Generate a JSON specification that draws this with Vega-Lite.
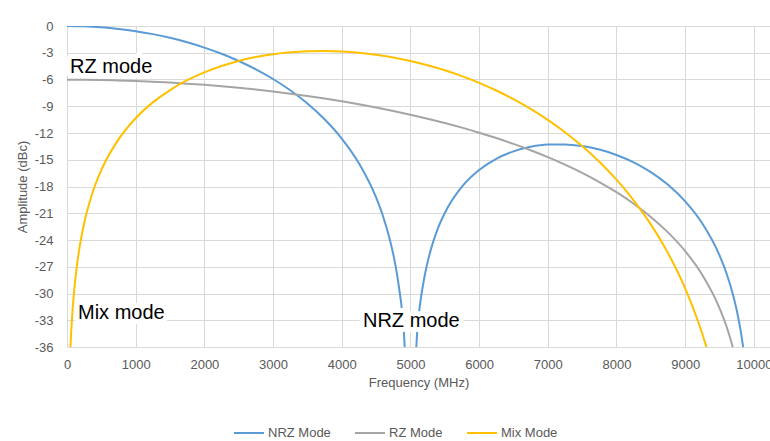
{
  "$schema": "https://vega.github.io/schema/vega-lite/v6.json",
  "autosize": {"type": "none"},
  "padding": {"left": 67, "top": 26, "right": 0, "bottom": 94},
  "width": 703,
  "height": 321,
  "background": "white",
  "config": {
    "view": {"stroke": null},
    "font": "Liberation Sans",
    "axis": {
      "labelFont": "Liberation Sans",
      "titleFont": "Liberation Sans",
      "labelFontSize": 13,
      "titleFontSize": 13,
      "labelColor": "#595959",
      "titleColor": "#595959",
      "titleFontWeight": "normal",
      "gridColor": "#d9d9d9",
      "gridWidth": 1,
      "domain": false,
      "ticks": false,
      "labelOverlap": false
    }
  },
  "datasets": {
    "curves": [
      {"mode": "NRZ Mode", "freq": 0, "amp": 0},
      {"mode": "NRZ Mode", "freq": 250, "amp": -0.036},
      {"mode": "NRZ Mode", "freq": 500, "amp": -0.143},
      {"mode": "NRZ Mode", "freq": 750, "amp": -0.324},
      {"mode": "NRZ Mode", "freq": 1000, "amp": -0.579},
      {"mode": "NRZ Mode", "freq": 1250, "amp": -0.912},
      {"mode": "NRZ Mode", "freq": 1500, "amp": -1.326},
      {"mode": "NRZ Mode", "freq": 1750, "amp": -1.827},
      {"mode": "NRZ Mode", "freq": 2000, "amp": -2.42},
      {"mode": "NRZ Mode", "freq": 2250, "amp": -3.115},
      {"mode": "NRZ Mode", "freq": 2500, "amp": -3.922},
      {"mode": "NRZ Mode", "freq": 2750, "amp": -4.858},
      {"mode": "NRZ Mode", "freq": 3000, "amp": -5.942},
      {"mode": "NRZ Mode", "freq": 3250, "amp": -7.204},
      {"mode": "NRZ Mode", "freq": 3500, "amp": -8.686},
      {"mode": "NRZ Mode", "freq": 3750, "amp": -10.455},
      {"mode": "NRZ Mode", "freq": 4000, "amp": -12.62},
      {"mode": "NRZ Mode", "freq": 4250, "amp": -15.39},
      {"mode": "NRZ Mode", "freq": 4500, "amp": -19.228},
      {"mode": "NRZ Mode", "freq": 4600, "amp": -21.305},
      {"mode": "NRZ Mode", "freq": 4700, "amp": -23.951},
      {"mode": "NRZ Mode", "freq": 4750, "amp": -25.611},
      {"mode": "NRZ Mode", "freq": 4800, "amp": -27.627},
      {"mode": "NRZ Mode", "freq": 4900, "amp": -33.81},
      {"mode": "NRZ Mode", "freq": 4950, "amp": -39.914},
      {"mode": "NRZ Mode", "freq": 5050, "amp": -40.088},
      {"mode": "NRZ Mode", "freq": 5100, "amp": -34.157},
      {"mode": "NRZ Mode", "freq": 5200, "amp": -28.322},
      {"mode": "NRZ Mode", "freq": 5250, "amp": -26.48},
      {"mode": "NRZ Mode", "freq": 5300, "amp": -24.994},
      {"mode": "NRZ Mode", "freq": 5400, "amp": -22.698},
      {"mode": "NRZ Mode", "freq": 5500, "amp": -20.971},
      {"mode": "NRZ Mode", "freq": 5750, "amp": -18.016},
      {"mode": "NRZ Mode", "freq": 6000, "amp": -16.142},
      {"mode": "NRZ Mode", "freq": 6250, "amp": -14.892},
      {"mode": "NRZ Mode", "freq": 6500, "amp": -14.063},
      {"mode": "NRZ Mode", "freq": 6750, "amp": -13.552},
      {"mode": "NRZ Mode", "freq": 7000, "amp": -13.301},
      {"mode": "NRZ Mode", "freq": 7250, "amp": -13.278},
      {"mode": "NRZ Mode", "freq": 7500, "amp": -13.465},
      {"mode": "NRZ Mode", "freq": 7750, "amp": -13.857},
      {"mode": "NRZ Mode", "freq": 8000, "amp": -14.461},
      {"mode": "NRZ Mode", "freq": 8250, "amp": -15.295},
      {"mode": "NRZ Mode", "freq": 8500, "amp": -16.393},
      {"mode": "NRZ Mode", "freq": 8750, "amp": -17.814},
      {"mode": "NRZ Mode", "freq": 9000, "amp": -19.664},
      {"mode": "NRZ Mode", "freq": 9250, "amp": -22.146},
      {"mode": "NRZ Mode", "freq": 9500, "amp": -25.718},
      {"mode": "NRZ Mode", "freq": 9600, "amp": -27.696},
      {"mode": "NRZ Mode", "freq": 9700, "amp": -30.244},
      {"mode": "NRZ Mode", "freq": 9750, "amp": -31.857},
      {"mode": "NRZ Mode", "freq": 9800, "amp": -33.827},
      {"mode": "NRZ Mode", "freq": 9850, "amp": -36.36},
      {"mode": "NRZ Mode", "freq": 9900, "amp": -39.919},
      {"mode": "RZ Mode", "freq": 0, "amp": -6.021},
      {"mode": "RZ Mode", "freq": 250, "amp": -6.03},
      {"mode": "RZ Mode", "freq": 500, "amp": -6.056},
      {"mode": "RZ Mode", "freq": 750, "amp": -6.101},
      {"mode": "RZ Mode", "freq": 1000, "amp": -6.164},
      {"mode": "RZ Mode", "freq": 1250, "amp": -6.245},
      {"mode": "RZ Mode", "freq": 1500, "amp": -6.345},
      {"mode": "RZ Mode", "freq": 1750, "amp": -6.463},
      {"mode": "RZ Mode", "freq": 2000, "amp": -6.6},
      {"mode": "RZ Mode", "freq": 2250, "amp": -6.756},
      {"mode": "RZ Mode", "freq": 2500, "amp": -6.932},
      {"mode": "RZ Mode", "freq": 2750, "amp": -7.129},
      {"mode": "RZ Mode", "freq": 3000, "amp": -7.347},
      {"mode": "RZ Mode", "freq": 3250, "amp": -7.586},
      {"mode": "RZ Mode", "freq": 3500, "amp": -7.848},
      {"mode": "RZ Mode", "freq": 3750, "amp": -8.132},
      {"mode": "RZ Mode", "freq": 4000, "amp": -8.441},
      {"mode": "RZ Mode", "freq": 4250, "amp": -8.775},
      {"mode": "RZ Mode", "freq": 4500, "amp": -9.136},
      {"mode": "RZ Mode", "freq": 4750, "amp": -9.524},
      {"mode": "RZ Mode", "freq": 5000, "amp": -9.943},
      {"mode": "RZ Mode", "freq": 5250, "amp": -10.394},
      {"mode": "RZ Mode", "freq": 5500, "amp": -10.879},
      {"mode": "RZ Mode", "freq": 5750, "amp": -11.4},
      {"mode": "RZ Mode", "freq": 6000, "amp": -11.963},
      {"mode": "RZ Mode", "freq": 6250, "amp": -12.569},
      {"mode": "RZ Mode", "freq": 6500, "amp": -13.224},
      {"mode": "RZ Mode", "freq": 6750, "amp": -13.934},
      {"mode": "RZ Mode", "freq": 7000, "amp": -14.707},
      {"mode": "RZ Mode", "freq": 7250, "amp": -15.549},
      {"mode": "RZ Mode", "freq": 7500, "amp": -16.475},
      {"mode": "RZ Mode", "freq": 7750, "amp": -17.499},
      {"mode": "RZ Mode", "freq": 8000, "amp": -18.641},
      {"mode": "RZ Mode", "freq": 8250, "amp": -19.931},
      {"mode": "RZ Mode", "freq": 8500, "amp": -21.411},
      {"mode": "RZ Mode", "freq": 8750, "amp": -23.147},
      {"mode": "RZ Mode", "freq": 9000, "amp": -25.249},
      {"mode": "RZ Mode", "freq": 9250, "amp": -27.922},
      {"mode": "RZ Mode", "freq": 9500, "amp": -31.632},
      {"mode": "RZ Mode", "freq": 9600, "amp": -33.648},
      {"mode": "RZ Mode", "freq": 9700, "amp": -36.226},
      {"mode": "RZ Mode", "freq": 9800, "amp": -39.831},
      {"mode": "Mix Mode", "freq": 25, "amp": -42.098},
      {"mode": "Mix Mode", "freq": 50, "amp": -36.078},
      {"mode": "Mix Mode", "freq": 75, "amp": -32.557},
      {"mode": "Mix Mode", "freq": 100, "amp": -30.06},
      {"mode": "Mix Mode", "freq": 150, "amp": -26.541},
      {"mode": "Mix Mode", "freq": 200, "amp": -24.048},
      {"mode": "Mix Mode", "freq": 250, "amp": -22.116},
      {"mode": "Mix Mode", "freq": 375, "amp": -18.617},
      {"mode": "Mix Mode", "freq": 500, "amp": -16.149},
      {"mode": "Mix Mode", "freq": 750, "amp": -12.717},
      {"mode": "Mix Mode", "freq": 1000, "amp": -10.344},
      {"mode": "Mix Mode", "freq": 1250, "amp": -8.567},
      {"mode": "Mix Mode", "freq": 1500, "amp": -7.183},
      {"mode": "Mix Mode", "freq": 1750, "amp": -6.081},
      {"mode": "Mix Mode", "freq": 2000, "amp": -5.195},
      {"mode": "Mix Mode", "freq": 2250, "amp": -4.485},
      {"mode": "Mix Mode", "freq": 2500, "amp": -3.922},
      {"mode": "Mix Mode", "freq": 2750, "amp": -3.488},
      {"mode": "Mix Mode", "freq": 3000, "amp": -3.167},
      {"mode": "Mix Mode", "freq": 3250, "amp": -2.95},
      {"mode": "Mix Mode", "freq": 3500, "amp": -2.829},
      {"mode": "Mix Mode", "freq": 3750, "amp": -2.799},
      {"mode": "Mix Mode", "freq": 4000, "amp": -2.856},
      {"mode": "Mix Mode", "freq": 4250, "amp": -2.997},
      {"mode": "Mix Mode", "freq": 4500, "amp": -3.222},
      {"mode": "Mix Mode", "freq": 4750, "amp": -3.531},
      {"mode": "Mix Mode", "freq": 5000, "amp": -3.922},
      {"mode": "Mix Mode", "freq": 5250, "amp": -4.4},
      {"mode": "Mix Mode", "freq": 5500, "amp": -4.966},
      {"mode": "Mix Mode", "freq": 5750, "amp": -5.623},
      {"mode": "Mix Mode", "freq": 6000, "amp": -6.378},
      {"mode": "Mix Mode", "freq": 6250, "amp": -7.236},
      {"mode": "Mix Mode", "freq": 6500, "amp": -8.206},
      {"mode": "Mix Mode", "freq": 6750, "amp": -9.298},
      {"mode": "Mix Mode", "freq": 7000, "amp": -10.527},
      {"mode": "Mix Mode", "freq": 7250, "amp": -11.908},
      {"mode": "Mix Mode", "freq": 7500, "amp": -13.465},
      {"mode": "Mix Mode", "freq": 7750, "amp": -15.227},
      {"mode": "Mix Mode", "freq": 8000, "amp": -17.236},
      {"mode": "Mix Mode", "freq": 8250, "amp": -19.549},
      {"mode": "Mix Mode", "freq": 8500, "amp": -22.249},
      {"mode": "Mix Mode", "freq": 8750, "amp": -25.47},
      {"mode": "Mix Mode", "freq": 9000, "amp": -29.428},
      {"mode": "Mix Mode", "freq": 9200, "amp": -33.392},
      {"mode": "Mix Mode", "freq": 9250, "amp": -34.538},
      {"mode": "Mix Mode", "freq": 9300, "amp": -35.763},
      {"mode": "Mix Mode", "freq": 9400, "amp": -38.496}
    ],
    "notes": [
      {"label": "RZ mode", "freq": 44, "amp": -4.6},
      {"label": "Mix mode", "freq": 160, "amp": -32.2},
      {"label": "NRZ mode", "freq": 4309, "amp": -33.05}
    ]
  },
  "encoding": {
    "x": {
      "field": "freq", "type": "quantitative",
      "scale": {"domain": [0, 10235], "nice": false, "zero": false},
      "axis": {
        "title": "Frequency (MHz)",
        "values": [0, 1000, 2000, 3000, 4000, 5000, 6000, 7000, 8000, 9000, 10000],
        "labelExpr": "'' + datum.value",
        "labelPadding": 11,
        "titlePadding": 5,
        "labelFlush": false,
        "labelOverlap": false
      }
    },
    "y": {
      "field": "amp", "type": "quantitative",
      "scale": {"domain": [-36, 0], "nice": false, "zero": false},
      "axis": {
        "title": "Amplitude (dBc)",
        "values": [-36, -33, -30, -27, -24, -21, -18, -15, -12, -9, -6, -3, 0],
        "labelExpr": "'' + datum.value",
        "labelPadding": 14,
        "titlePadding": 5,
        "labelFlush": false,
        "labelOverlap": false
      }
    }
  },
  "layer": [
    {
      "data": {"name": "curves"},
      "mark": {"type": "line", "clip": true, "strokeWidth": 2, "interpolate": "monotone"},
      "encoding": {
        "color": {
          "field": "mode", "type": "nominal",
          "scale": {"domain": ["NRZ Mode", "RZ Mode", "Mix Mode"], "range": ["#5B9BD5", "#A5A5A5", "#FFC000"]},
          "legend": {
            "title": null,
            "orient": "none",
            "legendX": 166,
            "legendY": 391,
            "direction": "horizontal",
            "symbolType": "stroke",
            "symbolSize": 900,
            "symbolStrokeWidth": 2,
            "labelFont": "Liberation Sans",
            "labelFontSize": 13,
            "labelColor": "#595959",
            "labelOffset": 3,
            "columnPadding": 20
          }
        }
      }
    },
    {
      "data": {"name": "notes"},
      "mark": {"type": "text", "align": "left", "baseline": "middle", "font": "Liberation Sans", "fontSize": 20, "color": "white", "stroke": "white", "strokeWidth": 10, "strokeJoin": "round"},
      "encoding": {
        "text": {"field": "label"}
      }
    },
    {
      "data": {"name": "notes"},
      "mark": {"type": "text", "align": "left", "baseline": "middle", "font": "Liberation Sans", "fontSize": 20, "color": "#000000"},
      "encoding": {
        "text": {"field": "label"}
      }
    }
  ]
}
